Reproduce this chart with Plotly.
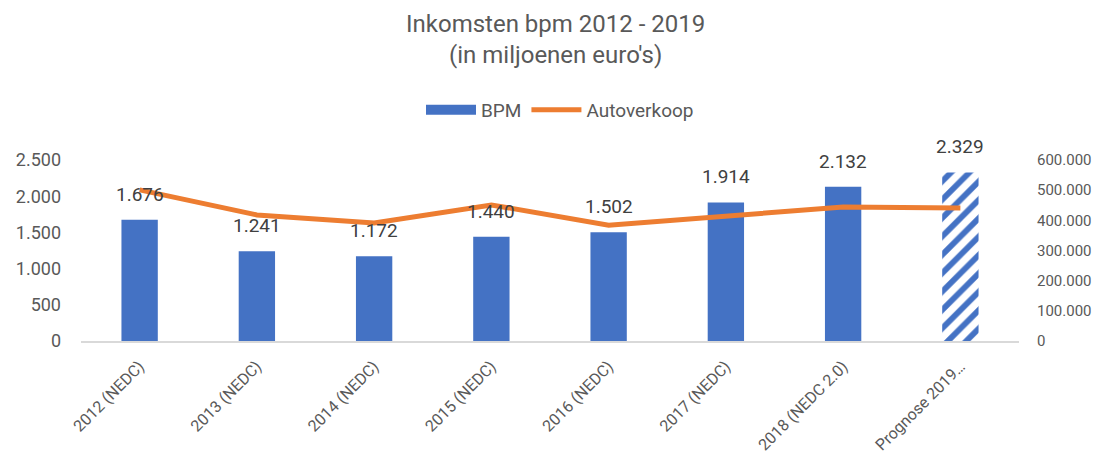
import plotly.graph_objects as go

categories = ["2012 (NEDC)", "2013 (NEDC)", "2014 (NEDC)", "2015 (NEDC)",
              "2016 (NEDC)", "2017 (NEDC)", "2018 (NEDC 2.0)", "Prognose 2019…"]
bpm = [1676, 1241, 1172, 1440, 1502, 1914, 2132, 2329]
autoverkoop = [501000, 418000, 391000, 451000, 384000, 414000, 444000, 441000]
hatched = [False, False, False, False, False, False, False, True]

BLUE = "#4472C4"
ORANGE = "#ED7D31"
FONT = "Roboto"

# page has an 8px body margin; size the figure to the visible area
W, H = 1095, 447
OFF = 8

fig = go.Figure()
fig.add_trace(go.Bar(
    x=categories, y=bpm, name="BPM", showlegend=False,
    marker=dict(
        color=BLUE,
        line=dict(width=0),
        pattern=dict(
            shape=["/" if h else "" for h in hatched],
            fgcolor=BLUE, bgcolor="white", size=13, solidity=0.45,
            fillmode="replace",
        ),
    ),
    width=0.31,
))
# legend-only entry so the BPM key looks like a wide rectangle
fig.add_trace(go.Scatter(
    x=[None], y=[None], name="BPM", mode="lines",
    line=dict(color=BLUE, width=12),
))
fig.add_trace(go.Scatter(
    x=categories, y=autoverkoop, name="Autoverkoop", yaxis="y2",
    mode="lines", line=dict(color=ORANGE, width=5),
))

for c, v in zip(categories, bpm):
    fig.add_annotation(
        x=c, y=v, xref="x", yref="y", text=f"{v:,}".replace(",", "."),
        showarrow=False, yanchor="bottom", yshift=12,
        font=dict(family=FONT, size=19, color="#404040"),
    )

plot_top = 160 - OFF
plot_bottom = 341 - OFF
plot_h = plot_bottom - plot_top

fig.add_annotation(
    text="Inkomsten bpm 2012 - 2019<br>(in miljoenen euro's)",
    xref="paper", yref="paper", x=0.506, y=(plot_bottom - (39 - OFF)) / plot_h,
    xanchor="center", yanchor="middle", showarrow=False,
    font=dict(family=FONT, size=24, color="#595959"),
)

fig.update_layout(
    width=W, height=H,
    margin=dict(l=81 - OFF, r=W - (1019 - OFF), t=plot_top, b=H - plot_bottom,
                autoexpand=False),
    paper_bgcolor="white", plot_bgcolor="white",
    separators=",.",
    font=dict(family=FONT, color="#595959"),
    showlegend=True,
    legend=dict(
        orientation="h", xref="container", yref="container",
        x=(560 - OFF) / W, xanchor="center", y=1 - (110 - OFF) / H, yanchor="middle",
        font=dict(family=FONT, size=19, color="#595959"),
        itemwidth=50,
    ),
    bargap=0.69,
    xaxis=dict(
        type="category", tickangle=-45, showgrid=False, automargin=False,
        showline=True, linecolor="#D9D9D9", linewidth=1.5,
        ticks="", ticklabelstandoff=8,
        tickfont=dict(family=FONT, size=16, color="#595959"),
    ),
    yaxis=dict(
        range=[0, 2500], dtick=500, tickformat=",d", showgrid=False,
        zeroline=False, ticks="", automargin=False, ticklabelstandoff=19,
        tickfont=dict(family=FONT, size=18, color="#595959"),
    ),
    yaxis2=dict(
        range=[0, 600000], dtick=100000, tickformat=",d", showgrid=False,
        overlaying="y", side="right", zeroline=False, ticks="", automargin=False,
        ticklabelstandoff=17,
        tickfont=dict(family=FONT, size=15, color="#595959"),
    ),
)

fig.write_html("out.html")
